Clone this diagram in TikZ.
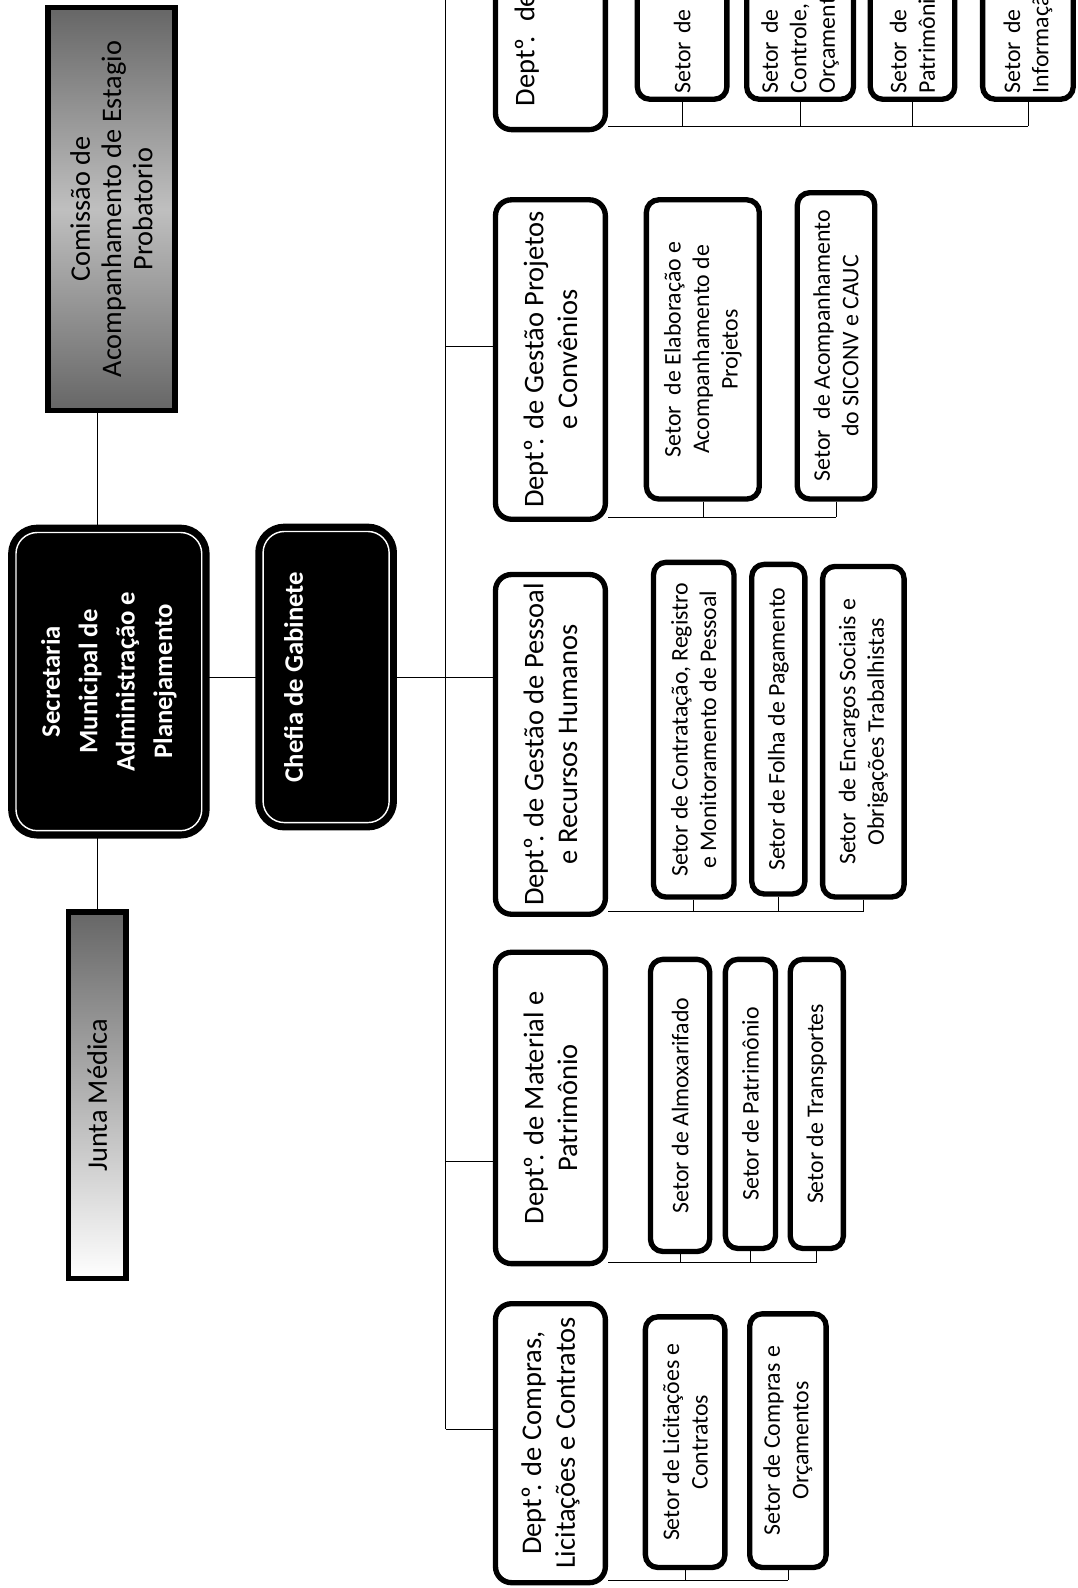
\documentclass[tikz,border=0pt]{standalone}
\usepackage{fontspec}
\setmainfont{Carlito}
\usetikzlibrary{calc,backgrounds}
\newcommand{\dpt}{Deptº\kern-.18em.}
\tikzset{topbox/.style={rotate=90, draw=black, fill=black, text=white, line width=4pt, double=white, double distance=0.8pt, rounded corners=12pt, inner sep=0pt, align=center, font=\bfseries\fontsize{15}{21}\selectfont},
  sidebox/.style={rotate=90, draw=black, line width=3.2pt, inner sep=0pt, align=center, font=\fontsize{15.9}{17.6}\selectfont},
  dept/.style={rotate=90, draw=black, fill=white, line width=3pt, rounded corners=9pt, inner sep=0pt, align=center, font=\fontsize{16}{19}\selectfont},
  setor/.style={rotate=90, draw=black, fill=white, line width=3pt, rounded corners=7pt, inner sep=0pt, align=center, font=\fontsize{13.4}{16}\selectfont},
  link/.style={line width=1.5pt}}

\begin{document}
\begin{tikzpicture}[x=0.02cm, y=-0.02cm]
   \useasboundingbox (0,0) rectangle (1064,1568);
   \node[sidebox, minimum width=7.96cm, minimum height=2.5cm, top color=black!60, bottom color=black!60, middle color=black!25] (comissao) at (110,206.5) {Comissão de\\ Acompanhamento de Estagio\\ Probatorio};
   \node[topbox, minimum width=5.89cm, minimum height=3.67cm] (secretaria) at (107.5,673) {Secretaria\\ Municipal de\\ Administração e\\ Planejamento};
   \node[topbox, minimum width=5.75cm, minimum height=2.49cm] (chefia) at (322,668.5) {\raisebox{13pt}[0pt][0pt]{Chefia de Gabinete}};
   \node[sidebox, minimum width=7.24cm, minimum height=1.14cm, top color=black!60, bottom color=white] (junta) at (96,1081.5) {Junta Médica};

   \node[dept, minimum width=6.4cm, minimum height=2.17cm, text width=5.48cm, align=left] (dTop) at (543.5,-32) {\raisebox{9pt}[0pt][0pt]{\dpt{} de}};
   \node[dept, minimum width=6.31cm, minimum height=2.17cm] (dProj) at (543.5,355) {\dpt{} de Gestão Projetos\\ e Convênios};
   \node[dept, minimum width=6.71cm, minimum height=2.17cm] (dPess) at (543.5,735) {\dpt{} de Gestão de Pessoal\\ e Recursos Humanos};
   \node[dept, minimum width=6.15cm, minimum height=2.17cm] (dMat) at (543.5,1094) {\dpt{} de Material e\\ Patrimônio};
   \node[dept, minimum width=5.51cm, minimum height=2.17cm] (dComp) at (543.5,1425) {\dpt{} de Compras,\\ Licitações e Contratos};

   \node[setor, minimum width=5cm, minimum height=1.77cm, text width=4.76cm, align=left] (tSet1) at (673.5,-27) {Setor de};
   \node[setor, minimum width=5cm, minimum height=2.11cm, text width=4.76cm, align=left] (tSet2) at (790,-27) {Setor de\\ Controle,\\ Orçamento};
   \node[setor, minimum width=5cm, minimum height=1.67cm, text width=4.76cm, align=left] (tSet3) at (901,-27) {Setor de\\ Patrimônio};
   \node[setor, minimum width=5cm, minimum height=1.79cm, text width=4.76cm, align=left] (tSet4) at (1015,-27) {Setor de\\ Informação};

   \node[setor, minimum width=5.91cm, minimum height=2.23cm] (sElab) at (694,345) {Setor\ \ de Elaboração e\\ Acompanhamento de\\ Projetos};
   \node[setor, minimum width=6.05cm, minimum height=1.53cm] (sSiconv) at (825.5,341.5) {Setor\ \ de Acompanhamento\\ do SICONV e CAUC};
   \node[setor, minimum width=6.61cm, minimum height=1.59cm] (sContr) at (685,720.5) {Setor de Contratação, Registro\\ e Monitoramento de Pessoal};
   \node[setor, minimum width=6.51cm, minimum height=1.05cm] (sFolha) at (768.5,720) {Setor de Folha de Pagamento};
   \node[setor, minimum width=6.53cm, minimum height=1.61cm] (sEncarg) at (852.5,722.5) {Setor\ \ de Encargos Sociais e\\ Obrigações Trabalhistas};
   \node[setor, minimum width=5.77cm, minimum height=1.17cm] (sAlmox) at (671.5,1091.5) {Setor de Almoxarifado};
   \node[setor, minimum width=5.71cm, minimum height=0.99cm] (sPatr) at (741,1090) {Setor de Patrimônio};
   \node[setor, minimum width=5.71cm, minimum height=1.05cm] (sTransp) at (806.5,1090) {Setor de Transportes};
   \node[setor, minimum width=4.95cm, minimum height=1.57cm] (sLicit) at (676.5,1424) {Setor de Licitações e\\ Contratos};
   \node[setor, minimum width=5.01cm, minimum height=1.51cm] (sOrc) at (778,1422.5) {Setor de Compras e\\ Orçamentos};

   \begin{scope}[on background layer, link]
   \coordinate (tk) at (440,-5);
   \coordinate (bProj) at ($(dProj.north west)!0.54!(dProj.north east)$);
   \coordinate (bMat) at ($(dMat.north west)!0.33!(dMat.north east)$);
   \coordinate (bComp) at ($(dComp.north west)!0.55!(dComp.north east)$);
   \draw (junta.east) -- (junta.east |- comissao.west);
   \draw (chefia.north -| secretaria.south) -- (chefia.north);
   \draw (chefia.south) -- (chefia.south -| dPess.north);
   \draw (tk) -- (tk |- bComp);
   \draw (tk |- bProj) -- (bProj);
   \draw (tk |- bMat) -- (bMat);
   \draw (tk |- bComp) -- (bComp);

   \draw (dTop.south west) ++(0,-6) coordinate (kTop) -- (kTop -| tSet4.west);
   \foreach \s in {tSet1,tSet2,tSet3,tSet4} \draw (\s.west) -- (\s.west |- kTop);
   \draw (dProj.south west) ++(0,-5) coordinate (kProj) -- (kProj -| sSiconv.west);
   \foreach \s in {sElab,sSiconv} \draw (\s.west) -- (\s.west |- kProj);
   \draw (dPess.south west) ++(0,-5) coordinate (kPess) -- (kPess -| sEncarg.west);
   \foreach \s in {sContr,sFolha,sEncarg} \draw (\s.west) -- (\s.west |- kPess);
   \draw (dMat.south west) ++(0,-4) coordinate (kMat) -- (kMat -| sTransp.west);
   \foreach \s in {sAlmox,sPatr,sTransp} \draw (\s.west) -- (\s.west |- kMat);
   \draw (dComp.south west) ++(0,-5) coordinate (kComp) -- (kComp -| sOrc.west);
   \foreach \s in {sLicit,sOrc} \draw (\s.west) -- (\s.west |- kComp);
   \end{scope}
\end{tikzpicture}
\end{document}
